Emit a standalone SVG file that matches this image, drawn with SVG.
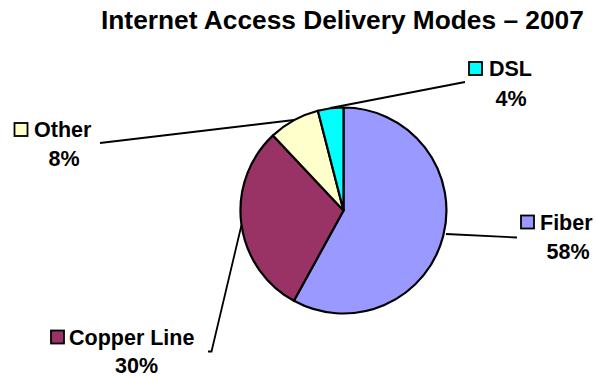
<svg xmlns="http://www.w3.org/2000/svg" width="596" height="377" viewBox="0 0 596 377">
<style>
text{font-family:"Liberation Sans",Arial,sans-serif;font-weight:bold;fill:#000}
.t{font-size:26.3px}
.l{font-size:21.5px}
.sl{stroke:#000;stroke-width:2.2;stroke-linejoin:round}
.ld{stroke:#000;stroke-width:1.8;fill:none}
.key{stroke:#000;stroke-width:1.8}
</style>
<rect width="596" height="377" fill="#fff"/>
<text class="t" x="101" y="28.5">Internet Access Delivery Modes – 2007</text>
<g id="pie">
<path id="fiber" class="sl" fill="#9999FF" d="M343.5,210.5 L343.5,107.5 A103,103 0 1 1 293.9,300.8 Z"/>
<path id="copper" class="sl" fill="#993366" d="M343.5,210.5 L293.9,300.8 A103,103 0 0 1 273,135.4 Z"/>
<path id="other" class="sl" fill="#FFFFCC" d="M343.5,210.5 L273,135.4 A103,103 0 0 1 317.9,110.7 Z"/>
<path id="dsl" class="sl" fill="#00FFFF" d="M343.5,210.5 L317.9,110.7 A103,103 0 0 1 343.5,107.5 Z"/>
</g>
<g id="connectors">
<polyline class="ld" points="330.5,108 465,82"/>
<polyline class="ld" points="100,143 294,120"/>
<polyline class="ld" points="446,234 517,237.5"/>
<polyline class="ld" points="241.5,225 211.5,351.5 208,351.5"/>
</g>
<g id="label-dsl">
<rect class="key" x="469" y="62" width="13" height="13" fill="#00FFFF"/>
<text class="l" x="489" y="76">DSL</text>
<text class="l" x="511" y="106" text-anchor="middle">4%</text>
</g>
<g id="label-other">
<rect class="key" x="14.5" y="123" width="13" height="13" fill="#FFFFCC"/>
<text class="l" x="34" y="137">Other</text>
<text class="l" x="64" y="166" text-anchor="middle">8%</text>
</g>
<g id="label-fiber">
<rect class="key" x="521" y="215.5" width="13" height="13" fill="#9999FF"/>
<text class="l" x="540" y="230">Fiber</text>
<text class="l" x="568" y="259" text-anchor="middle">58%</text>
</g>
<g id="label-copper">
<rect class="key" x="51" y="330.5" width="13" height="13" fill="#993366"/>
<text class="l" x="69" y="345">Copper Line</text>
<text class="l" x="136.5" y="373" text-anchor="middle">30%</text>
</g>
</svg>
